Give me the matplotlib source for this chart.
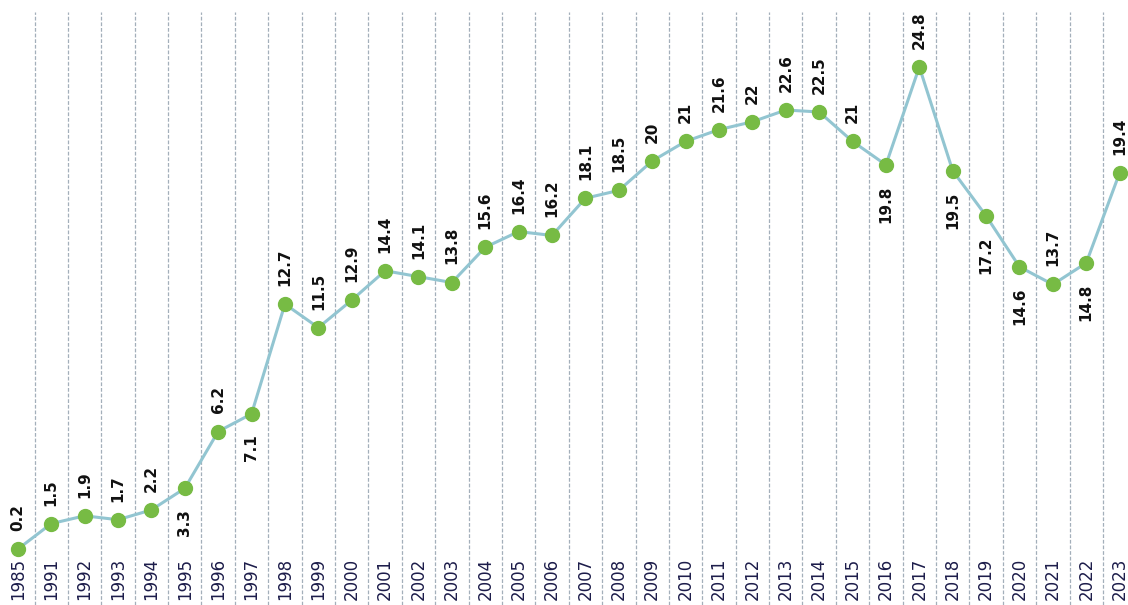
import matplotlib.pyplot as plt
import numpy as np

years = ['1985', '1991', '1992', '1993', '1994', '1995', '1996', '1997', '1998', '1999',
         '2000', '2001', '2002', '2003', '2004', '2005', '2006', '2007', '2008', '2009',
         '2010', '2011', '2012', '2013', '2014', '2015', '2016', '2017', '2018', '2019',
         '2020', '2021', '2022', '2023']
values = [0.2, 1.5, 1.9, 1.7, 2.2, 3.3, 6.2, 7.1, 12.7, 11.5,
          12.9, 14.4, 14.1, 13.8, 15.6, 16.4, 16.2, 18.1, 18.5, 20,
          21, 21.6, 22, 22.6, 22.5, 21, 19.8, 24.8, 19.5, 17.2,
          14.6, 13.7, 14.8, 19.4]
# years whose value label sits under the point
below = ['1995', '1997', '2016', '2018', '2019', '2020', '2022']

fig = plt.figure(figsize=(11.28, 6.05), dpi=100)
ax = fig.add_axes([0.001, 0.0, 0.999, 593 / 605])

x = np.arange(len(years))
ax.plot(x, values, color='#92c5d1', lw=2.2, zorder=2)
ax.plot(x, values, 'o', color='#77bb44', ms=10, mec='#77bb44', zorder=3)

# dashed separators between the years
for b in x[:-1] + 0.5:
    ax.axvline(b, color='#a3afba', lw=0.9, ls=(0, (3, 1.5)), zorder=1)

for xi, v, yr in zip(x, values, years):
    lbl = f'{v:g}'
    if yr in below:
        ax.annotate(lbl, (xi, v), xytext=(0, -15), textcoords='offset points',
                    rotation=90, ha='center', va='top', fontsize=11,
                    fontweight='bold', color='#111111')
    else:
        ax.annotate(lbl, (xi, v), xytext=(0, 13), textcoords='offset points',
                    rotation=90, ha='center', va='bottom', fontsize=11,
                    fontweight='bold', color='#111111')
    ax.text(xi, 0.008, yr, transform=ax.get_xaxis_transform(), rotation=90,
            ha='center', va='bottom', fontsize=12, color='#1c1c4a')

ax.set_xlim(-0.5, 33.25)
ax.set_ylim(-2.65, 27.6)
ax.axis('off')

fig.savefig('out.png', dpi=100)
